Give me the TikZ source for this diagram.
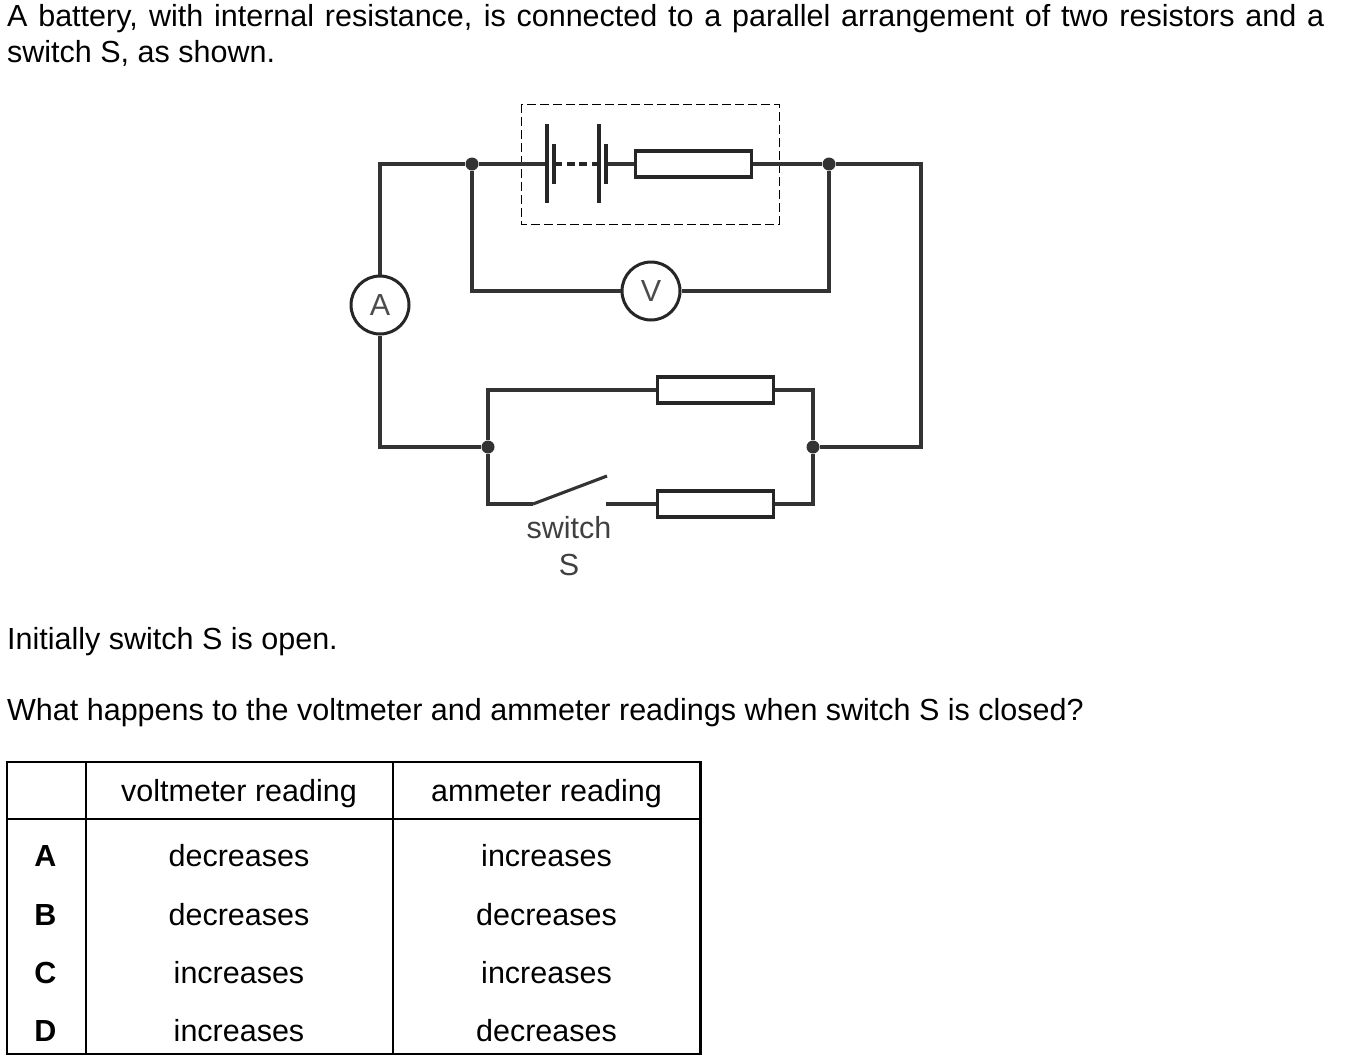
\documentclass[tikz,border=0pt]{standalone}
\usepackage{fontspec}
\setmainfont{Liberation Sans}
\tikzset{
 wire/.style={line width=3.1pt,black!80,line join=miter},
 plate/.style={line width=3.6pt,black!85},
 res/.style={draw=black!85,line width=3.8pt,fill=white,minimum width=116pt,minimum height=26.5pt,inner sep=0pt},
 meter/.style={circle,draw=black!85,line width=3pt,fill=white,minimum size=58pt,inner sep=0pt,font=\fontsize{30.5}{30.5}\selectfont,text=black!70},
 dot/.style={circle,fill=black!80,minimum size=13pt,inner sep=0pt},
 txt/.style={anchor=base west,inner sep=0pt,font=\fontsize{30.5}{36}\selectfont},
 ctxt/.style={anchor=base,inner sep=0pt,font=\fontsize{30.5}{36}\selectfont},
 swtxt/.style={anchor=base,inner sep=0pt,font=\fontsize{30.5}{36}\selectfont,text=black!75},
 btxt/.style={anchor=base,inner sep=0pt,font=\fontsize{30.5}{36}\selectfont\bfseries},
 grid/.style={line width=2.2pt,black},
 outer/.style={line width=2.6pt,black},
}
\begin{document}
\begin{tikzpicture}[x=1pt,y=-1pt]
\useasboundingbox (0,0) rectangle (1370,1061);
% question text
\node[txt] (l1) at (7,26) {\hbox to 1317pt{A battery, with internal resistance, is connected to a parallel arrangement of two resistors and a}};
\node[txt] (l2) at (7,62) {switch S, as shown.};
\node[txt] (l3) at (7,649) {Initially switch S is open.};
\node[txt] (l4) at (7,720) {What happens to the voltmeter and ammeter readings when switch S is closed?};
% battery enclosure
\draw[line width=1pt,black,dash pattern=on 9pt off 4pt] (521,104) rectangle (779,224);
% nodes
\node[meter] (A) at (380,305) {A};
\node[meter] (V) at (651,291) {V};
\node[dot] (J1) at (472,164) {};
\node[dot] (J2) at (829,164) {};
\node[dot] (J3) at (488,447) {};
\node[dot] (J4) at (813,447) {};
\node[res] (Rint) at (693.5,164) {};
\node[res] (R1) at (715.5,390) {};
\node[res] (R2) at (715.5,504) {};
\coordinate (C1a) at (547,164);
\coordinate (C2b) at (606,164);
\coordinate (SwL) at (533,504);
\coordinate (SwT) at (607,476);
\coordinate (SwR) at (606,504);
% wires
\draw[wire] (A.north) |- (J1) -- (C1a);
\draw[wire] (C2b) -- (Rint.west);
\draw[wire] (Rint.east) -- (J2) -| (921,447) -- (J4);
\draw[wire] (J1) |- (V.west);
\draw[wire] (V.east) -| (J2);
\draw[wire] (A.south) |- (J3);
\draw[wire] (J3) |- (R1.west);
\draw[wire] (R1.east) -| (J4);
\draw[wire] (J3) |- (SwL);
\draw[wire] (SwL) -- (SwT);
\draw[wire] (SwR) -- (R2.west);
\draw[wire] (R2.east) -| (J4);
% cells
\draw[plate] (547,124) -- (547,203);
\draw[plate] (554,144) -- (554,184);
\draw[plate] (599,124) -- (599,203);
\draw[plate] (606,144) -- (606,184);
\draw[plate,dash pattern=on 8pt off 4.5pt] (554,164) -- (599,164);
% switch label
\node[swtxt] (sw) at (569,538) {switch};
\node[swtxt] (S) at (569,575) {S};
% table
\draw[outer] (7,762) rectangle (700.5,1054);
\coordinate (T1) at (7,819);
\coordinate (T2) at (700.5,819);
\coordinate (T3) at (86,762);
\coordinate (T4) at (86,1054);
\coordinate (T5) at (393,762);
\coordinate (T6) at (393,1054);
\draw[grid] (T1) -- (T2);
\draw[grid] (T3) -- (T4);
\draw[grid] (T5) -- (T6);
\node[ctxt] (h1) at (239,801) {voltmeter reading};
\node[ctxt] (h2) at (546.5,801) {ammeter reading};
\node[btxt] (ra) at (45.5,866) {A};
\node[btxt] (rb) at (45.5,925) {B};
\node[btxt] (rc) at (45.5,983) {C};
\node[btxt] (rd) at (45.5,1041) {D};
\node[ctxt] (a1) at (239,866) {decreases};
\node[ctxt] (a2) at (546.5,866) {increases};
\node[ctxt] (b1) at (239,925) {decreases};
\node[ctxt] (b2) at (546.5,925) {decreases};
\node[ctxt] (c1) at (239,983) {increases};
\node[ctxt] (c2) at (546.5,983) {increases};
\node[ctxt] (d1) at (239,1041) {increases};
\node[ctxt] (d2) at (546.5,1041) {decreases};
\end{tikzpicture}
\end{document}
